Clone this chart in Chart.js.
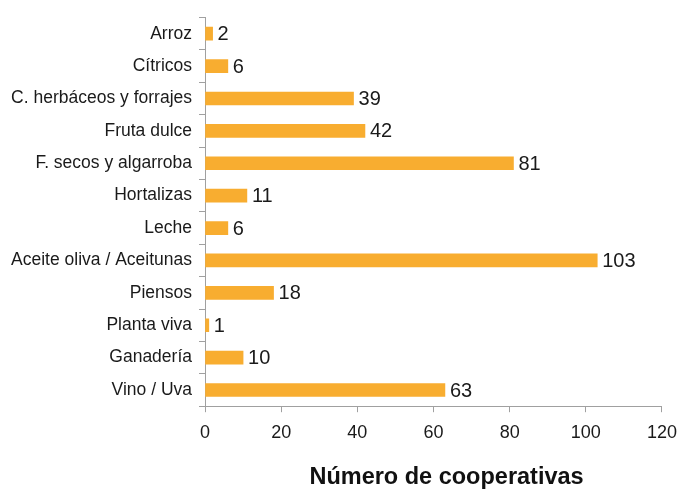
<!DOCTYPE html>
<html>
<head>
<meta charset="utf-8">
<script src="https://cdn.jsdelivr.net/npm/chart.js@4/dist/chart.umd.min.js"></script>
<style>
  html, body { margin: 0; padding: 0; background: #fff; }
  #wrap { width: 687px; height: 492px; }
</style>
</head>
<body>
<div id="wrap"><canvas id="grafica"></canvas></div>
<script>
// datos del grafico
var categorias = ['Arroz', 'Cítricos', 'C. herbáceos y forrajes', 'Fruta dulce', 'F. secos y algarroba',
  'Hortalizas', 'Leche', 'Aceite oliva / Aceitunas', 'Piensos', 'Planta viva', 'Ganadería', 'Vino / Uva'];
var cooperativas = [2, 6, 39, 42, 81, 11, 6, 103, 18, 1, 10, 63];
var ticksX = [0, 20, 40, 60, 80, 100, 120];

var fuente = "'Liberation Sans', Arial, sans-serif";

// pinta el numero al final de cada barra
var etiquetas = {
  id: 'etiquetas',
  afterDatasetsDraw: function(chart) {
    var ctx = chart.ctx;
    var meta = chart.getDatasetMeta(0);
    ctx.save();
    ctx.fillStyle = '#1a1a1a';
    ctx.font = '20px ' + fuente;
    ctx.textBaseline = 'middle';
    ctx.textAlign = 'left';
    meta.data.forEach(function(barra, i) {
      ctx.fillText(cooperativas[i], barra.x + 5, barra.y + 1);
    });
    ctx.restore();
  }
};

new Chart(document.getElementById('grafica'), {
  type: 'bar',
  data: {
    labels: categorias,
    datasets: [{
      data: cooperativas,
      backgroundColor: '#F8AD30',
      barThickness: 13
    }]
  },
  options: {
    indexAxis: 'y',
    responsive: true,
    maintainAspectRatio: false,
    animation: false,
    layout: { padding: { top: 13, right: 19, bottom: 0, left: 0 } },
    plugins: { legend: { display: false }, tooltip: { enabled: false } },
    scales: {
      x: {
        min: 0,
        max: 120,
        afterBuildTicks: function(scale) {
          scale.ticks = ticksX.map(function(v) { return { value: v }; });
        },
        border: { color: '#a0a0a0' },
        grid: { drawOnChartArea: false, tickLength: 6, color: '#a0a0a0' },
        ticks: { color: '#1a1a1a', font: { family: fuente, size: 18 }, padding: 10 },
        title: {
          display: true,
          text: '\u00a0\u00a0\u00a0\u00a0Número de cooperativas',
          color: '#111',
          font: { family: fuente, size: 23.5, weight: 'bold' },
          padding: { top: 10, bottom: 0 }
        }
      },
      y: {
        afterFit: function(scale) { scale.width = 205; },
        border: { color: '#a0a0a0' },
        grid: { drawOnChartArea: false, tickLength: 6, color: '#a0a0a0' },
        ticks: { color: '#1a1a1a', font: { family: fuente, size: 17.5 }, padding: 7 }
      }
    }
  },
  plugins: [etiquetas]
});
</script>
</body>
</html>
